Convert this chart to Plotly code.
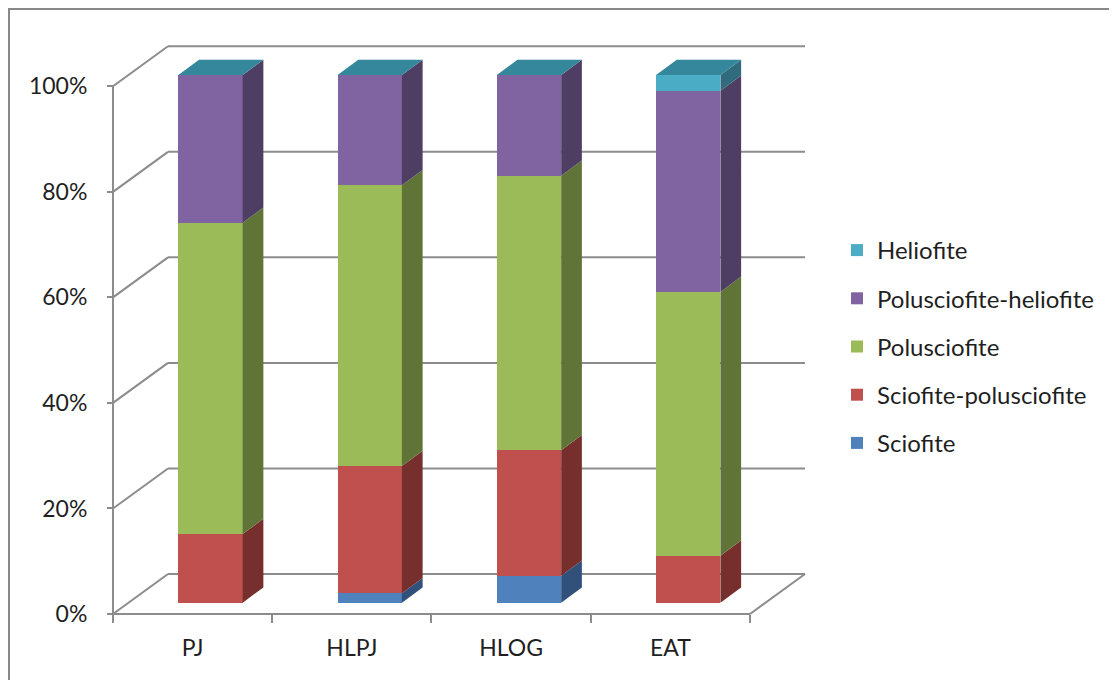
import plotly.graph_objects as go

# ---------------- data ----------------
categories = ["PJ", "HLPJ", "HLOG", "EAT"]
series_names = ["Sciofite", "Sciofite-polusciofite", "Polusciofite",
                "Polusciofite-heliofite", "Heliofite"]
sciofite = [0.0, 1.8, 5.1, 0.0]
sciofite_polusciofite = [13.0, 24.1, 23.8, 8.9]
polusciofite = [59.0, 53.2, 52.0, 50.0]
polusciofite_heliofite = [28.0, 20.9, 19.1, 38.1]
heliofite = [0.0, 0.0, 0.0, 3.0]
y_ticks = [0, 20, 40, 60, 80, 100]
y_tick_labels = ["0%", "20%", "40%", "60%", "80%", "100%"]

series_values = [sciofite, sciofite_polusciofite, polusciofite,
                 polusciofite_heliofite, heliofite]

# ---------------- style ----------------
front_colors = ["#4F81BD", "#C0504D", "#9BBB59", "#8064A2", "#4BACC6"]
side_colors = ["#31507A", "#772F2E", "#607437", "#4F3E64", "#2F6B7C"]
top_color = "#35879C"
grid_color = "#8C8C8C"
text_color = "#1F1F1F"
FONT = "Lato"
FONT_SIZE = 23
LEGEND_FONT_SIZE = 24

BAR_W = 0.404      # front face width (category units)
DEPTH_X = 0.130    # bar depth in x (category units)
DEPTH_Y = 2.9      # bar depth in y (percent units)
FRONT_X, FRONT_Y = -0.1124, -2.14   # front plane offset from bar plane
BACK_X, BACK_Y = 0.233, 5.44        # back wall offset from bar plane

PAGE_OFF = 8       # browser body margin
W, H = 1117 - PAGE_OFF, 680 - PAGE_OFF
# target plot-area edges in window pixels
L, R, T, B = 100, 830, 30, 640
PX_PER_CAT = 159.25
PX_PER_PCT = 5.277
BAR_X0_PX = 210.5
BAR_Y0_PX = 602.7

x_range = [(L - BAR_X0_PX) / PX_PER_CAT, (R - BAR_X0_PX) / PX_PER_CAT]
y_range = [(BAR_Y0_PX - B) / PX_PER_PCT, (BAR_Y0_PX - T) / PX_PER_PCT]

fig = go.Figure()

xs = list(range(len(categories)))
n = len(categories)

# front faces (stacked bars)
for k, (name, vals, col) in enumerate(zip(series_names, series_values, front_colors)):
    fig.add_trace(go.Bar(
        x=xs, y=vals, name=name, width=BAR_W,
        marker=dict(color=col, line=dict(width=0)),
        legendgroup=name, legendrank=len(series_names) - k,
        hoverinfo="skip",
    ))

# side faces
base = [0.0] * n
for name, vals, col in zip(series_names, series_values, side_colors):
    px, py = [], []
    for i, v in enumerate(vals):
        b0 = base[i]
        t0 = b0 + v
        if v > 0:
            xr = i + BAR_W / 2
            px += [xr, xr + DEPTH_X, xr + DEPTH_X, xr, xr, None]
            py += [b0, b0 + DEPTH_Y, t0 + DEPTH_Y, t0, b0, None]
        base[i] = t0
    if px:
        fig.add_trace(go.Scatter(
            x=px, y=py, mode="lines", fill="toself", fillcolor=col,
            line=dict(width=0, color=col), showlegend=False,
            legendgroup=name, hoverinfo="skip",
        ))

# top faces
tx, ty = [], []
for i, tot in enumerate(base):
    xl, xr = i - BAR_W / 2, i + BAR_W / 2
    tx += [xl, xl + DEPTH_X, xr + DEPTH_X, xr, xl, None]
    ty += [tot, tot + DEPTH_Y, tot + DEPTH_Y, tot, tot, None]
fig.add_trace(go.Scatter(
    x=tx, y=ty, mode="lines", fill="toself", fillcolor=top_color,
    line=dict(width=0, color=top_color), showlegend=False,
    legendgroup="Heliofite", hoverinfo="skip",
))

# dummy trace to carry the front-plane axes (tick labels)
fig.add_trace(go.Scatter(
    x=[0], y=[0], xaxis="x2", yaxis="y2", mode="markers",
    marker=dict(opacity=0), showlegend=False, hoverinfo="skip",
))

# ---------------- grid / walls as shapes ----------------
shapes = []
line = dict(color=grid_color, width=2)
left_front = -0.5 + FRONT_X
right_front = n - 0.5 + FRONT_X
left_back = -0.5 + BACK_X
right_back = n - 0.5 + BACK_X
for v in y_ticks:
    shapes.append(dict(type="line", xref="x", yref="y", x0=left_back, x1=right_back,
                       y0=v + BACK_Y, y1=v + BACK_Y, line=line, layer="below"))
    shapes.append(dict(type="line", xref="x", yref="y", x0=left_front, x1=left_back,
                       y0=v + FRONT_Y, y1=v + BACK_Y, line=line, layer="below"))
shapes.append(dict(type="line", xref="x", yref="y", x0=right_front, x1=right_back,
                   y0=FRONT_Y, y1=BACK_Y, line=line, layer="below"))
shapes.append(dict(type="line", xref="x", yref="y", x0=left_front, x1=right_front,
                   y0=FRONT_Y, y1=FRONT_Y, line=line, layer="below"))
shapes.append(dict(type="line", xref="x", yref="y", x0=left_front, x1=left_front,
                   y0=FRONT_Y, y1=100 + FRONT_Y, line=line, layer="below"))
# outer frame (window pixel ~9 -> canvas pixel 1)
FRAME_PX = PAGE_OFF + 1
shapes.append(dict(type="rect", xref="paper", yref="paper",
                   x0=(FRAME_PX - L) / (R - L), x1=(1117 + 40 - L) / (R - L),
                   y0=(B - (680 + 40)) / (B - T), y1=(B - FRAME_PX) / (B - T),
                   line=dict(color="#888888", width=2), layer="below"))

fig.update_layout(
    width=W, height=H,
    margin=dict(l=L - PAGE_OFF, r=W - (R - PAGE_OFF), t=T - PAGE_OFF,
                b=H - (B - PAGE_OFF)),
    paper_bgcolor="white", plot_bgcolor="rgba(0,0,0,0)",
    barmode="stack",
    shapes=shapes,
    font=dict(family=FONT, size=FONT_SIZE, color=text_color),
    showlegend=True,
    legend=dict(
        x=(837 - L) / (R - L), xanchor="left",
        y=(B - 228) / (B - T), yanchor="top",
        traceorder="grouped", tracegroupgap=14,
        font=dict(family=FONT, size=LEGEND_FONT_SIZE, color=text_color),
        bgcolor="rgba(0,0,0,0)", itemwidth=30,
    ),
    xaxis=dict(range=x_range, visible=False, fixedrange=True),
    yaxis=dict(range=y_range, visible=False, fixedrange=True),
    xaxis2=dict(
        overlaying="x", anchor="free",
        position=(B - 614) / (B - T),
        range=[x_range[0] - FRONT_X, x_range[1] - FRONT_X],
        tickvals=xs, ticktext=categories, ticks="", showline=False,
        showgrid=False, zeroline=False,
        ticklabelstandoff=18,
        tickfont=dict(family=FONT, size=FONT_SIZE, color=text_color),
        minor=dict(tickvals=[i - 0.5 for i in range(n + 1)], ticks="outside",
                   ticklen=8, tickcolor=grid_color, tickwidth=2, showgrid=False),
    ),
    yaxis2=dict(
        overlaying="y", anchor="free",
        position=(113 - L) / (R - L),
        range=[y_range[0] - FRONT_Y, y_range[1] - FRONT_Y],
        tickvals=y_ticks, ticktext=y_tick_labels,
        ticks="outside", ticklen=6, tickcolor=grid_color, tickwidth=2,
        showline=False, showgrid=False, zeroline=False,
        ticklabelstandoff=15,
        tickfont=dict(family=FONT, size=FONT_SIZE, color=text_color),
    ),
)

fig.write_html("out.html")
